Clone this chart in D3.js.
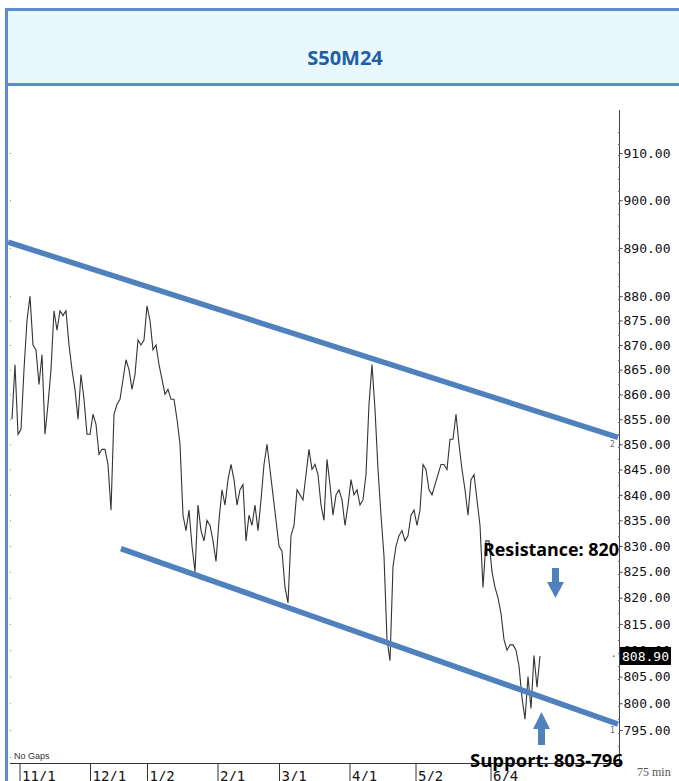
<!DOCTYPE html>
<html>
<head>
<meta charset="utf-8">
<script src="https://cdn.jsdelivr.net/npm/d3@7"></script>
<style>
  body { margin: 0; background: #fff; }
  svg { display: block; }
</style>
</head>
<body>
<svg id="chart"></svg>
<script>
// S50M24, 75 min bars, closes (one value per ~3 bars)
const closes = [
  855, 866, 852, 853, 865, 875, 880, 870, 869, 862,
  868, 852, 858, 865, 877, 873, 877, 876, 877, 870,
  865, 861, 855, 864, 859, 852, 852, 856, 854, 848,
  849, 849, 846, 837, 856, 858, 859, 863, 867, 865,
  861, 864, 871, 870, 871, 878, 875, 869, 870, 866,
  863, 860, 861, 859, 859, 855, 850, 836, 833, 837,
  830, 825, 838, 833, 831, 835, 834, 831, 827, 835,
  841, 838, 843, 846, 843, 838, 841, 842, 831, 836,
  834, 838, 833, 839, 846, 850, 845, 840, 835, 830,
  829, 822, 819, 832, 834, 841, 840, 839, 844, 849,
  845, 846, 844, 838, 835, 847, 842, 836, 840, 841,
  839, 834, 838, 843, 840, 841, 838, 839, 844, 858,
  866, 857, 845, 836, 828, 812, 808, 826, 830, 832,
  833, 831, 832, 836, 837, 834, 837, 846, 845, 841,
  840, 842, 844, 846, 846, 845, 851, 851, 856, 850,
  845, 841, 836, 843, 844, 839, 834, 822, 831, 831,
  825, 822, 820, 817, 812, 810, 811, 811, 810, 807,
  801, 797, 805, 799, 809, 803, 808.9
];

// month starts, as position in the bar sequence
const monthLabels = ['11/1', '12/1', '1/2', '2/1', '3/1', '4/1', '5/2', '6/4'];
const monthStartBar = [2.5, 26, 45, 68.5, 89, 112.5, 134.5, 159.5];

const priceTicks = [795, 800, 805, 810, 815, 820, 825, 830, 835, 840, 845,
                    850, 855, 860, 865, 870, 875, 880, 890, 900, 910];
const lastPrice = 808.9;

// channel lines: [bar, price] end points
const upperChannel = [[-1.3, 891.2], [202, 851.4]];
const lowerChannel = [[36.3, 829.5], [202, 796.1]];

const title = 'S50M24';
const resistanceText = 'Resistance: 820';
const supportText = 'Support: 803-796';

const W = 679, H = 781;
const blue = '#4f81bd';

const svg = d3.select('#chart').attr('width', W).attr('height', H);

// title box
svg.append('rect')
  .attr('x', 6.5).attr('y', 9.5)
  .attr('width', W + 10).attr('height', 75)
  .attr('fill', '#e8f8fc')
  .attr('stroke', '#5b8cd2').attr('stroke-width', 3);

svg.append('line')
  .attr('x1', 6.5).attr('x2', 6.5).attr('y1', 84).attr('y2', H)
  .attr('stroke', '#5b8cd2').attr('stroke-width', 3);

svg.append('text')
  .attr('x', 345).attr('y', 65)
  .attr('text-anchor', 'middle')
  .style('font-family', '"Open Sans", "Noto Sans", sans-serif')
  .style('font-weight', 'bold').style('font-size', '20px')
  .attr('fill', '#1f5ea8')
  .text(title);

// scales
const x = d3.scaleLinear().domain([0, 202]).range([12, 618]);
const y = d3.scaleLog().domain([795, 910]).range([730, 153]);

const mono = '"DejaVu Sans Mono", "Liberation Mono", monospace';

// right price axis
svg.append('line')
  .attr('x1', 619.5).attr('x2', 619.5).attr('y1', 110).attr('y2', 764)
  .attr('stroke', '#444').attr('stroke-width', 1);

const minorTicks = d3.range(792, 916, 2.5);
svg.append('g').selectAll('line')
  .data(minorTicks)
  .enter().append('line')
  .attr('x1', 618).attr('x2', 620)
  .attr('y1', d => Math.round(y(d)) + 0.5).attr('y2', d => Math.round(y(d)) + 0.5)
  .attr('stroke', '#666');

const yAxis = svg.append('g')
  .attr('transform', 'translate(619.5,0)')
  .call(d3.axisRight(y).tickValues(priceTicks).tickFormat(d3.format('.2f')).tickSize(3).tickPadding(1));
yAxis.select('.domain').remove();
yAxis.selectAll('line').attr('stroke', '#444');
yAxis.selectAll('text')
  .style('font-family', mono).style('font-size', '13px')
  .attr('fill', '#111');

// faint dots on the left edge at the same levels
svg.append('g').selectAll('rect')
  .data(priceTicks.concat([785, 790]))
  .enter().append('rect')
  .attr('x', 10).attr('y', d => y(d))
  .attr('width', 1).attr('height', 1)
  .attr('fill', '#888');

// bottom date axis
svg.append('line')
  .attr('x1', 10).attr('x2', 619).attr('y1', 763.5).attr('y2', 763.5)
  .attr('stroke', '#333');

const xAxis = svg.append('g')
  .attr('transform', 'translate(0,763.5)')
  .call(d3.axisBottom(x).tickValues(monthStartBar)
    .tickFormat((d, i) => monthLabels[i]).tickSize(18));
xAxis.select('.domain').remove();
xAxis.selectAll('line').attr('stroke', '#333');
xAxis.selectAll('text')
  .attr('text-anchor', 'start').attr('x', 2).attr('y', 17).attr('dy', 0)
  .style('font-family', mono).style('font-size', '14px')
  .attr('fill', '#111');

svg.append('text')
  .attr('x', 14).attr('y', 759)
  .style('font-family', '"Liberation Sans", Arial, sans-serif').style('font-size', '9px')
  .attr('fill', '#333')
  .text('No Gaps');

svg.append('text')
  .attr('x', 637).attr('y', 776)
  .style('font-family', '"Liberation Serif", serif').style('font-size', '12px')
  .attr('fill', '#555')
  .text('75 min');

// price line
const line = d3.line()
  .x((d, i) => x(i))
  .y(d => y(d));

svg.append('path')
  .datum(closes)
  .attr('d', line)
  .attr('fill', 'none')
  .attr('stroke', '#333')
  .attr('stroke-width', 1.1);

// channel
const chan = d3.line().x(d => x(d[0])).y(d => y(d[1]));
[upperChannel, lowerChannel].forEach(c => {
  svg.append('path')
    .datum(c)
    .attr('d', chan)
    .attr('stroke', blue).attr('stroke-width', 5.5)
    .attr('fill', 'none');
});

// channel markers near the axis
svg.append('text').attr('x', 610).attr('y', y(850) + 3)
  .style('font-family', mono).style('font-size', '8px').attr('fill', '#666').text('2');
svg.append('text').attr('x', 610).attr('y', y(795) + 3)
  .style('font-family', mono).style('font-size', '8px').attr('fill', '#666').text('1');

// last price tag (covers the 810 tick label, as in the original)
svg.append('rect')
  .attr('x', 613).attr('y', y(lastPrice) - 0.5)
  .attr('width', 1.5).attr('height', 1.5).attr('fill', '#666');
svg.append('rect')
  .attr('x', 620).attr('y', y(lastPrice) - 9)
  .attr('width', 51).attr('height', 18)
  .attr('fill', '#000');
svg.append('text')
  .attr('x', 622).attr('y', y(lastPrice))
  .attr('dy', '0.35em')
  .style('font-family', mono).style('font-size', '13px')
  .attr('fill', '#fff')
  .text(d3.format('.2f')(lastPrice));

// annotations
const noteFont = '"Open Sans", "Noto Sans", sans-serif';
svg.append('text')
  .attr('x', 483).attr('y', 556)
  .attr('textLength', 136).attr('lengthAdjust', 'spacingAndGlyphs')
  .style('font-family', noteFont).style('font-weight', 'bold').style('font-size', '18px')
  .attr('fill', '#000')
  .text(resistanceText);

svg.append('text')
  .attr('x', 470).attr('y', 767)
  .attr('textLength', 153).attr('lengthAdjust', 'spacingAndGlyphs')
  .style('font-family', noteFont).style('font-weight', 'bold').style('font-size', '18px')
  .attr('fill', '#000')
  .text(supportText);

// arrows
svg.append('path')
  .attr('d', 'M552,568 L559,568 L559,582 L564,582 L555.5,598 L547,582 L552,582 Z')
  .attr('fill', blue);
svg.append('path')
  .attr('d', 'M538,745 L545,745 L545,729 L550,729 L541.5,712 L533,729 L538,729 Z')
  .attr('fill', blue);
</script>
</body>
</html>
